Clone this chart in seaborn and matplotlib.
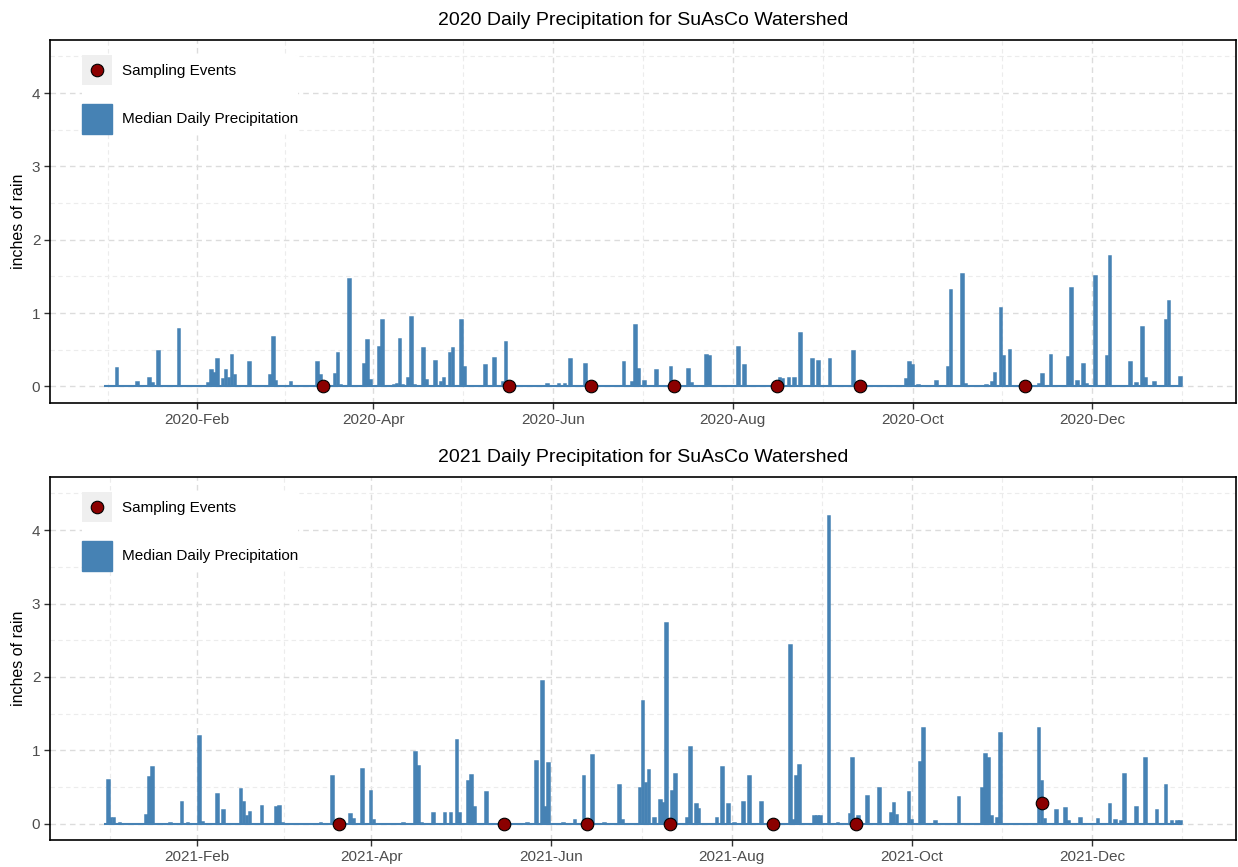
import numpy as np
import pandas as pd
import matplotlib
matplotlib.use("Agg")
import matplotlib.pyplot as plt
import matplotlib.dates as mdates
import seaborn as sns
from matplotlib.legend_handler import HandlerBase
from matplotlib.patches import Rectangle, Patch
from matplotlib.lines import Line2D

# ---- daily precipitation (inches); days not listed recorded no rain ----
rain2020_doy = [
    5, 12, 16, 17, 19, 26, 32, 36, 37, 38, 39, 41, 42, 43, 44, 45, 50, 57, 58, 59,
    64, 73, 74, 79, 80, 81, 84, 89, 90, 91, 94, 95, 99, 100, 101, 102, 104, 105, 106,
    109, 110, 113, 115, 116, 118, 119, 122, 123, 128, 130, 133, 136, 137, 145, 146,
    147, 151, 155, 157, 159, 164, 177, 180, 181, 182, 184, 188, 193, 199, 200, 205,
    206, 211, 216, 218, 223, 227, 230, 231, 233, 235, 237, 241, 243, 247, 255, 273,
    274, 275, 277, 283, 287, 288, 292, 293, 296, 297, 300, 302, 303, 305, 306, 308,
    318, 319, 322, 328, 329, 331, 333, 334, 337, 341, 342, 349, 351, 353, 354, 357,
    361, 362, 366,
]
rain2020_in = [
    0.25, 0.06, 0.12, 0.05, 0.48, 0.78, 0.01, 0.05, 0.22, 0.19, 0.38, 0.10, 0.22, 0.11,
    0.43, 0.16, 0.34, 0.16, 0.67, 0.08, 0.06, 0.34, 0.15, 0.17, 0.46, 0.02, 1.46, 0.30,
    0.63, 0.09, 0.54, 0.91, 0.02, 0.04, 0.65, 0.02, 0.12, 0.95, 0.02, 0.53, 0.09, 0.35,
    0.06, 0.12, 0.45, 0.52, 0.90, 0.26, 0.01, 0.29, 0.39, 0.06, 0.61, 0.01, 0.01, 0.01,
    0.04, 0.04, 0.03, 0.37, 0.31, 0.34, 0.06, 0.84, 0.24, 0.08, 0.22, 0.27, 0.24, 0.05,
    0.43, 0.42, 0.01, 0.54, 0.29, 0.01, 0.01, 0.12, 0.10, 0.11, 0.11, 0.73, 0.37, 0.35,
    0.38, 0.49, 0.10, 0.34, 0.29, 0.02, 0.07, 0.26, 1.32, 1.54, 0.04, 0.01, 0.01, 0.02,
    0.06, 0.19, 1.07, 0.42, 0.50, 0.04, 0.17, 0.43, 0.40, 1.34, 0.07, 0.31, 0.03, 1.51,
    0.42, 1.78, 0.33, 0.05, 0.81, 0.12, 0.06, 0.90, 1.16, 0.13,
]

rain2021_doy = [
    2, 3, 4, 6, 15, 16, 17, 23, 27, 29, 33, 34, 39, 41, 47, 48, 49, 50, 54, 59, 60, 61,
    74, 78, 84, 85, 88, 91, 92, 102, 106, 107, 108, 112, 116, 118, 120, 121, 124, 125,
    126, 130, 137, 144, 147, 149, 150, 151, 156, 160, 163, 166, 170, 175, 176, 182, 183,
    184, 185, 187, 189, 190, 191, 193, 194, 198, 199, 201, 202, 208, 210, 212, 214, 217,
    219, 223, 233, 234, 235, 236, 241, 242, 243, 246, 249, 253, 254, 256, 259, 263, 267,
    268, 269, 273, 274, 277, 278, 282, 290, 298, 299, 300, 301, 303, 304, 317, 318, 319,
    323, 326, 327, 331, 337, 341, 343, 345, 346, 350, 353, 357, 360, 362, 364, 365,
]
rain2021_in = [
    0.59, 0.07, 0.07, 0.01, 0.12, 0.64, 0.77, 0.01, 0.30, 0.01, 1.20, 0.02, 0.40, 0.18,
    0.47, 0.30, 0.10, 0.16, 0.24, 0.23, 0.24, 0.01, 0.01, 0.65, 0.13, 0.06, 0.74, 0.44,
    0.05, 0.01, 0.97, 0.78, 0.01, 0.15, 0.14, 0.15, 1.14, 0.14, 0.58, 0.66, 0.22, 0.43,
    0.02, 0.01, 0.85, 1.95, 0.22, 0.83, 0.01, 0.05, 0.65, 0.94, 0.01, 0.52, 0.05, 0.49,
    1.67, 0.55, 0.73, 0.07, 0.32, 0.28, 2.73, 0.45, 0.68, 0.08, 1.04, 0.27, 0.20, 0.08,
    0.77, 0.27, 0.01, 0.30, 0.65, 0.30, 2.43, 0.05, 0.65, 0.80, 0.10, 0.10, 0.10, 4.20,
    0.01, 0.13, 0.90, 0.10, 0.37, 0.48, 0.14, 0.28, 0.12, 0.43, 0.05, 0.84, 1.30, 0.03,
    0.36, 0.48, 0.95, 0.90, 0.10, 0.08, 1.23, 1.30, 0.58, 0.06, 0.18, 0.21, 0.03, 0.07,
    0.06, 0.26, 0.05, 0.04, 0.67, 0.22, 0.89, 0.18, 0.52, 0.03, 0.03, 0.03,
]

# ---- sampling events ----
samples2020_dates = ["2020-03-15", "2020-05-17", "2020-06-14", "2020-07-12",
                     "2020-08-16", "2020-09-13", "2020-11-08"]
samples2020_y = [0, 0, 0, 0, 0, 0, 0]
samples2021_dates = ["2021-03-21", "2021-05-16", "2021-06-13", "2021-07-11",
                     "2021-08-15", "2021-09-12", "2021-11-14"]
samples2021_y = [0, 0, 0, 0, 0, 0, 0.28]

tick_months = ["02-01", "04-01", "06-01", "08-01", "10-01", "12-01"]

STEEL = "#4682B4"
DARKRED = "#8B0000"


def daily_frame(year, doy, inches):
    days = pd.date_range(f"{year}-01-01", f"{year}-12-31", freq="D")
    vals = np.zeros(len(days))
    vals[np.asarray(doy) - 1] = inches
    return pd.DataFrame({"x": mdates.date2num(days), "precip": vals})


def sample_frame(dates, ys):
    return pd.DataFrame({"x": mdates.date2num(pd.to_datetime(dates)), "y": ys})


class SampleKeyHandler(HandlerBase):
    """Legend key: grey square with the sampling marker centred on it."""

    def create_artists(self, legend, orig_handle, xdescent, ydescent,
                       width, height, fontsize, trans):
        bg = Rectangle((-xdescent, -ydescent), width, height,
                       facecolor="#EFEFEF", edgecolor="none", transform=trans)
        dot = Line2D([width / 2 - xdescent], [height / 2 - ydescent],
                     linestyle="none", marker="o",
                     markersize=orig_handle.get_markersize(),
                     markerfacecolor=orig_handle.get_markerfacecolor(),
                     markeredgecolor=orig_handle.get_markeredgecolor(),
                     markeredgewidth=orig_handle.get_markeredgewidth(),
                     transform=trans)
        return [bg, dot]


sns.set_theme(style="white")
plt.rcParams["font.family"] = ["Liberation Sans", "DejaVu Sans"]

W, H = 1238, 867
fig = plt.figure(figsize=(W / 100, H / 100), dpi=100)
ax_top = fig.add_axes([50 / W, 1 - 403 / H, 1186 / W, 363 / H])
ax_bot = fig.add_axes([50 / W, 1 - 840 / H, 1186 / W, 363 / H])

panels = [
    (ax_top, 2020, rain2020_doy, rain2020_in, samples2020_dates, samples2020_y),
    (ax_bot, 2021, rain2021_doy, rain2021_in, samples2021_dates, samples2021_y),
]

for ax, year, doy, inches, s_dates, s_y in panels:
    df = daily_frame(year, doy, inches)
    sf = sample_frame(s_dates, s_y)
    x0, x1 = df["x"].min() - 0.45, df["x"].max() + 0.45

    # outline of the dry days: a continuous strip along zero
    ax.hlines(0, x0, x1, color=STEEL, linewidth=1.5, zorder=2)
    sns.barplot(data=df, x="x", y="precip", native_scale=True, orient="x",
                color=STEEL, saturation=1, width=0.9, edgecolor=STEEL,
                linewidth=1.1, errorbar=None, ax=ax, zorder=3)
    sns.scatterplot(data=sf, x="x", y="y", s=82, color=DARKRED,
                    edgecolor="black", linewidth=0.8, ax=ax, zorder=5,
                    legend=False)

    # scale limits: data range plus 5 % on each side
    pad = 0.05 * (x1 - x0)
    ax.set_xlim(x0 - pad, x1 + pad)
    ax.set_ylim(-0.225, 4.725)

    majors = mdates.date2num(pd.to_datetime([f"{year}-{m}" for m in tick_months]))
    gaps = np.diff(majors)
    minors = np.concatenate([[majors[0] - gaps[0] / 2],
                             majors[:-1] + gaps / 2,
                             [majors[-1] + gaps[-1] / 2]])
    ax.set_xticks(majors)
    ax.set_xticks(minors, minor=True)
    ax.xaxis.set_major_formatter(mdates.DateFormatter("%Y-%b"))
    ax.set_yticks(range(5))
    ax.set_yticks(np.arange(0.5, 5, 1.0), minor=True)

    ax.set_axisbelow(True)
    ax.grid(which="major", color="#DCDCDC", linestyle=(0, (4, 3)), linewidth=1.0)
    ax.grid(which="minor", color="#ECECEC", linestyle=(0, (4, 3)), linewidth=0.8)

    ax.tick_params(which="major", bottom=True, left=True, length=4, width=1,
                   color="#333333", labelsize=11, labelcolor="#4D4D4D", pad=3)
    ax.tick_params(which="minor", bottom=False, left=False, length=0)
    for sp in ax.spines.values():
        sp.set_visible(True)
        sp.set_color("black")
        sp.set_linewidth(1.2)

    ax.set_xlabel("")
    ax.set_ylabel("inches of rain", fontsize=11.5, color="black", labelpad=4)
    ax.set_title(f"{year} Daily Precipitation for SuAsCo Watershed",
                 fontsize=14, color="black", pad=11)

    sample_handle = Line2D([], [], linestyle="none", marker="o", markersize=9,
                           markerfacecolor=DARKRED, markeredgecolor="black",
                           markeredgewidth=0.8)
    rain_handle = Patch(facecolor=STEEL, edgecolor=STEEL)
    leg = ax.legend([sample_handle, rain_handle],
                    ["Sampling Events", "Median Daily Precipitation"],
                    handler_map={sample_handle: SampleKeyHandler()},
                    loc="upper left", bbox_to_anchor=(31.7 / 1186, 1 - 15 / 363),
                    borderaxespad=0, borderpad=0.0, frameon=True,
                    facecolor="white", edgecolor="none", framealpha=1,
                    fontsize=11, handlelength=1.96, handleheight=2.64,
                    labelspacing=1.24, handletextpad=0.65)
    leg.get_frame().set_linewidth(0)
    for t in leg.get_texts():
        t.set_color("black")

fig.savefig("out.png", dpi=100)
